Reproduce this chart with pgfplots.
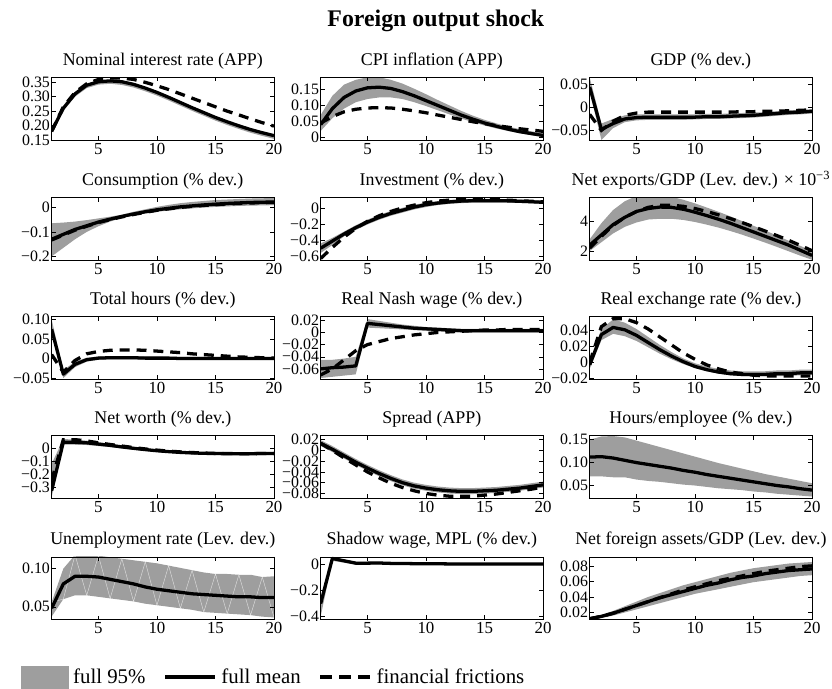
\documentclass[border=0pt]{standalone}
\usepackage{pgfplots}
\pgfplotsset{compat=1.18}
\usepackage{pgfplotstable}
\usepackage{fontspec}
\setmainfont{Liberation Serif}

\definecolor{bandgray}{RGB}{158,158,158}

% impulse responses: x, lower/upper 95% bound, full-model mean, financial-frictions model
\pgfplotstableread{
x lo hi m f
1 0.175 0.185 0.180 0.180
2 0.252 0.265 0.260 0.265
3 0.300 0.315 0.310 0.315
4 0.330 0.344 0.340 0.345
5 0.342 0.356 0.352 0.360
6 0.345 0.359 0.355 0.365
7 0.341 0.356 0.352 0.365
8 0.332 0.347 0.343 0.360
9 0.319 0.334 0.330 0.350
10 0.304 0.319 0.315 0.338
11 0.287 0.302 0.298 0.325
12 0.269 0.284 0.280 0.310
13 0.251 0.266 0.262 0.295
14 0.234 0.249 0.245 0.280
15 0.217 0.232 0.228 0.265
16 0.202 0.217 0.213 0.250
17 0.188 0.203 0.199 0.237
18 0.175 0.190 0.186 0.223
19 0.164 0.179 0.175 0.210
20 0.154 0.169 0.165 0.198
}\tabRate
\pgfplotstableread{
x lo hi m f
1 0.020 0.070 0.040 0.045
2 0.060 0.130 0.090 0.065
3 0.090 0.165 0.125 0.080
4 0.110 0.180 0.145 0.088
5 0.120 0.188 0.155 0.092
6 0.125 0.188 0.157 0.093
7 0.125 0.180 0.153 0.092
8 0.120 0.168 0.143 0.088
9 0.110 0.152 0.130 0.083
10 0.098 0.135 0.115 0.077
11 0.085 0.117 0.100 0.070
12 0.072 0.100 0.085 0.063
13 0.059 0.083 0.070 0.056
14 0.048 0.068 0.057 0.049
15 0.037 0.055 0.045 0.043
16 0.028 0.044 0.035 0.037
17 0.020 0.034 0.026 0.032
18 0.013 0.026 0.018 0.027
19 0.007 0.019 0.012 0.023
20 0.002 0.013 0.006 0.019
}\tabCPI
\pgfplotstableread{
x lo hi m f
1 0.035 0.066 0.045 -0.015
2 -0.071 -0.035 -0.048 -0.050
3 -0.045 -0.025 -0.035 -0.030
4 -0.032 -0.017 -0.025 -0.017
5 -0.028 -0.015 -0.022 -0.012
6 -0.027 -0.015 -0.021 -0.010
7 -0.027 -0.015 -0.021 -0.010
8 -0.027 -0.015 -0.021 -0.010
9 -0.027 -0.015 -0.021 -0.010
10 -0.026 -0.015 -0.021 -0.010
11 -0.025 -0.014 -0.020 -0.010
12 -0.025 -0.014 -0.020 -0.010
13 -0.024 -0.013 -0.019 -0.010
14 -0.023 -0.012 -0.018 -0.009
15 -0.022 -0.011 -0.017 -0.009
16 -0.020 -0.010 -0.015 -0.008
17 -0.018 -0.008 -0.013 -0.008
18 -0.016 -0.006 -0.011 -0.007
19 -0.015 -0.005 -0.010 -0.006
20 -0.013 -0.004 -0.008 -0.005
}\tabGDP
\pgfplotstableread{
x lo hi m f
1 -0.200 -0.065 -0.130 -0.133
2 -0.165 -0.062 -0.110 -0.113
3 -0.130 -0.058 -0.090 -0.093
4 -0.100 -0.052 -0.075 -0.077
5 -0.077 -0.045 -0.060 -0.062
6 -0.058 -0.038 -0.048 -0.050
7 -0.043 -0.030 -0.037 -0.039
8 -0.033 -0.018 -0.027 -0.029
9 -0.025 -0.008 -0.018 -0.020
10 -0.018 0.002 -0.010 -0.012
11 -0.013 0.010 -0.004 -0.006
12 -0.008 0.017 0.002 0.000
13 -0.004 0.022 0.006 0.004
14 -0.001 0.026 0.010 0.008
15 0.002 0.030 0.013 0.011
16 0.004 0.032 0.016 0.014
17 0.006 0.034 0.018 0.016
18 0.007 0.036 0.020 0.018
19 0.008 0.037 0.021 0.019
20 0.009 0.038 0.022 0.020
}\tabCons
\pgfplotstableread{
x lo hi m f
1 -0.56 -0.44 -0.50 -0.63
2 -0.46 -0.37 -0.41 -0.49
3 -0.35 -0.29 -0.32 -0.36
4 -0.27 -0.21 -0.24 -0.25
5 -0.20 -0.14 -0.17 -0.16
6 -0.14 -0.08 -0.11 -0.09
7 -0.09 -0.03 -0.06 -0.035
8 -0.05 0.01 -0.02 0.01
9 -0.01 0.05 0.02 0.045
10 0.02 0.075 0.05 0.075
11 0.045 0.095 0.07 0.095
12 0.06 0.11 0.085 0.108
13 0.07 0.12 0.095 0.115
14 0.075 0.125 0.10 0.117
15 0.077 0.125 0.10 0.115
16 0.077 0.123 0.10 0.112
17 0.076 0.12 0.098 0.107
18 0.072 0.114 0.093 0.10
19 0.067 0.107 0.087 0.093
20 0.06 0.10 0.08 0.085
}\tabInv
\pgfplotstableread{
x lo hi m f
1 2.0 2.8 2.4 2.2
2 2.6 3.9 3.1 3.0
3 3.2 4.8 3.8 3.75
4 3.65 5.4 4.3 4.3
5 3.95 5.75 4.7 4.7
6 4.15 5.9 4.9 4.98
7 4.2 5.85 5.0 5.12
8 4.2 5.7 4.98 5.13
9 4.12 5.5 4.85 5.05
10 3.98 5.25 4.65 4.9
11 3.8 4.97 4.42 4.7
12 3.6 4.68 4.17 4.47
13 3.37 4.37 3.9 4.22
14 3.12 4.05 3.6 3.95
15 2.85 3.72 3.3 3.66
16 2.57 3.4 3.0 3.36
17 2.28 3.05 2.7 3.05
18 1.98 2.7 2.4 2.73
19 1.68 2.35 2.05 2.38
20 1.4 2.0 1.7 2.02
}\tabNX
\pgfplotstableread{
x lo hi m f
1 0.060 0.100 0.075 0.010
2 -0.050 -0.030 -0.040 -0.035
3 -0.022 -0.008 -0.015 -0.005
4 -0.008 0.002 -0.003 0.012
5 -0.003 0.005 0.001 0.018
6 -0.002 0.006 0.002 0.021
7 -0.002 0.006 0.002 0.022
8 -0.002 0.006 0.002 0.022
9 -0.003 0.005 0.001 0.021
10 -0.003 0.005 0.001 0.019
11 -0.003 0.004 0.001 0.017
12 -0.003 0.004 0.000 0.015
13 -0.003 0.004 0.000 0.012
14 -0.003 0.004 0.000 0.010
15 -0.003 0.003 0.000 0.008
16 -0.003 0.003 0.000 0.006
17 -0.003 0.003 0.000 0.004
18 -0.003 0.003 0.000 0.003
19 -0.003 0.003 0.000 0.002
20 -0.003 0.003 0.000 0.001
}\tabHours
\pgfplotstableread{
x lo hi m f
1 -0.075 -0.045 -0.060 -0.070
2 -0.073 -0.045 -0.058 -0.060
3 -0.071 -0.043 -0.057 -0.045
4 -0.069 -0.040 -0.055 -0.030
5 0.008 0.022 0.015 -0.020
6 0.007 0.019 0.013 -0.015
7 0.006 0.016 0.011 -0.010
8 0.005 0.013 0.009 -0.007
9 0.004 0.011 0.007 -0.004
10 0.003 0.009 0.006 -0.002
11 0.002 0.008 0.005 0.000
12 0.001 0.007 0.004 0.001
13 0.000 0.006 0.003 0.002
14 0.000 0.006 0.003 0.003
15 0.000 0.006 0.003 0.004
16 0.000 0.006 0.003 0.004
17 0.000 0.006 0.003 0.005
18 0.000 0.006 0.003 0.005
19 0.000 0.006 0.003 0.005
20 0.000 0.006 0.003 0.005
}\tabNash
\pgfplotstableread{
x lo hi m f
1 -0.008 0.002 -0.003 0.000
2 0.028 0.042 0.035 0.045
3 0.036 0.054 0.044 0.055
4 0.033 0.050 0.041 0.055
5 0.027 0.042 0.034 0.050
6 0.019 0.032 0.025 0.042
7 0.011 0.022 0.016 0.032
8 0.004 0.013 0.008 0.022
9 -0.002 0.005 0.001 0.012
10 -0.007 -0.001 -0.005 0.004
11 -0.011 -0.005 -0.009 -0.003
12 -0.014 -0.008 -0.012 -0.008
13 -0.016 -0.010 -0.014 -0.012
14 -0.017 -0.011 -0.015 -0.014
15 -0.017 -0.011 -0.015 -0.016
16 -0.017 -0.011 -0.015 -0.017
17 -0.017 -0.010 -0.014 -0.017
18 -0.017 -0.010 -0.014 -0.017
19 -0.016 -0.009 -0.013 -0.017
20 -0.016 -0.009 -0.013 -0.017
}\tabRER
\pgfplotstableread{
x lo hi m f
1 -0.38 -0.12 -0.33 -0.25
2 0.03 0.075 0.05 0.07
3 0.03 0.07 0.05 0.07
4 0.028 0.062 0.045 0.06
5 0.02 0.05 0.035 0.045
6 0.012 0.038 0.025 0.032
7 0.001 0.025 0.013 0.02
8 -0.009 0.013 0.002 0.008
9 -0.018 0.002 -0.008 -0.003
10 -0.026 -0.008 -0.017 -0.012
11 -0.033 -0.015 -0.024 -0.02
12 -0.038 -0.021 -0.030 -0.026
13 -0.042 -0.025 -0.034 -0.031
14 -0.045 -0.028 -0.037 -0.035
15 -0.047 -0.030 -0.039 -0.038
16 -0.048 -0.031 -0.040 -0.039
17 -0.048 -0.031 -0.040 -0.040
18 -0.048 -0.031 -0.040 -0.040
19 -0.047 -0.030 -0.039 -0.039
20 -0.046 -0.029 -0.038 -0.038
}\tabNW
\pgfplotstableread{
x lo hi m f
1 0.008 0.019 0.013 0.013
2 -0.003 0.008 0.002 0.000
3 -0.015 -0.004 -0.010 -0.014
4 -0.027 -0.016 -0.022 -0.027
5 -0.038 -0.027 -0.033 -0.040
6 -0.048 -0.037 -0.043 -0.051
7 -0.057 -0.046 -0.052 -0.061
8 -0.065 -0.054 -0.060 -0.069
9 -0.071 -0.060 -0.066 -0.075
10 -0.075 -0.064 -0.070 -0.080
11 -0.078 -0.067 -0.073 -0.083
12 -0.080 -0.069 -0.075 -0.085
13 -0.081 -0.070 -0.076 -0.085
14 -0.081 -0.070 -0.076 -0.085
15 -0.080 -0.069 -0.075 -0.083
16 -0.079 -0.068 -0.074 -0.081
17 -0.077 -0.066 -0.072 -0.078
18 -0.075 -0.064 -0.070 -0.075
19 -0.072 -0.061 -0.067 -0.072
20 -0.069 -0.058 -0.064 -0.068
}\tabSpread
\pgfplotstableread{
x lo hi m
1 0.070 0.150 0.112
2 0.070 0.157 0.113
3 0.068 0.158 0.110
4 0.068 0.155 0.105
5 0.063 0.148 0.100
6 0.060 0.141 0.096
7 0.058 0.134 0.092
8 0.055 0.127 0.088
9 0.052 0.120 0.083
10 0.050 0.113 0.079
11 0.047 0.106 0.074
12 0.044 0.099 0.070
13 0.042 0.093 0.066
14 0.040 0.087 0.062
15 0.037 0.081 0.058
16 0.035 0.075 0.054
17 0.032 0.070 0.050
18 0.030 0.065 0.047
19 0.028 0.060 0.043
20 0.026 0.055 0.040
}\tabHPE
\pgfplotstableread{
x lo hi m
1 0.037 0.056 0.048
2 0.060 0.100 0.080
3 0.065 0.118 0.090
4 0.065 0.118 0.090
5 0.063 0.117 0.089
6 0.061 0.115 0.086
7 0.059 0.113 0.083
8 0.057 0.111 0.080
9 0.054 0.109 0.076
10 0.052 0.107 0.073
11 0.050 0.104 0.071
12 0.048 0.101 0.069
13 0.046 0.098 0.067
14 0.043 0.095 0.066
15 0.042 0.093 0.065
16 0.041 0.093 0.064
17 0.040 0.092 0.063
18 0.039 0.092 0.063
19 0.037 0.089 0.062
20 0.036 0.090 0.062
}\tabUnemp
\pgfplotstableread{
x lo hi m
1 -0.40 -0.25 -0.30
2 0.030 0.060 0.048
3 0.015 0.040 0.030
4 0.000 0.022 0.012
5 0.002 0.022 0.012
6 0.003 0.022 0.013
7 0.001 0.019 0.010
8 0.000 0.017 0.009
9 -0.001 0.016 0.008
10 -0.002 0.015 0.007
11 -0.002 0.014 0.007
12 -0.003 0.014 0.006
13 -0.003 0.013 0.006
14 -0.003 0.013 0.006
15 -0.003 0.013 0.005
16 -0.003 0.012 0.005
17 -0.003 0.012 0.005
18 -0.003 0.012 0.005
19 -0.003 0.012 0.005
20 -0.003 0.012 0.005
}\tabShadow
\pgfplotstableread{
x lo hi m f
1 0.011 0.013 0.012 0.012
2 0.013 0.017 0.015 0.015
3 0.016 0.022 0.019 0.019
4 0.020 0.028 0.024 0.024
5 0.024 0.034 0.029 0.029
6 0.028 0.040 0.034 0.034
7 0.032 0.045 0.039 0.039
8 0.036 0.050 0.043 0.044
9 0.040 0.055 0.047 0.049
10 0.044 0.059 0.051 0.053
11 0.047 0.063 0.055 0.057
12 0.050 0.067 0.058 0.061
13 0.053 0.071 0.062 0.064
14 0.056 0.074 0.065 0.067
15 0.059 0.077 0.067 0.070
16 0.061 0.079 0.070 0.073
17 0.063 0.081 0.072 0.075
18 0.065 0.083 0.074 0.077
19 0.067 0.084 0.075 0.079
20 0.068 0.085 0.076 0.080
}\tabNFA

\pgfplotsset{
  irf/.style={
    width=224pt, height=63pt, scale only axis,
    anchor=north west,
    xmin=1, xmax=20, xtick={5,10,15,20},
    scaled x ticks=false, scaled y ticks=false,
    tick align=inside, major tick length=4pt,
    tick style={black, line width=0.5pt},
    axis line style={black, line width=0.7pt},
    xticklabel style={font=\fontsize{17}{17}\selectfont, inner sep=3pt},
    yticklabel style={font=\fontsize{16}{16}\selectfont, inner sep=1.5pt},
    /pgf/number format/assume math mode=true,
    title style={font=\fontsize{18}{20}\selectfont, inner sep=2pt},
    axis on top,
  },
  meanline/.style={black, line width=3.3pt, line join=round},
  ffline/.style={black, line width=3.3pt, dash pattern=on 10pt off 7pt},
}

% 95% band: lower bound stacked with the band width, filled in between
\newcommand{\irfband}[1]{%
  \addplot[draw=none, fill=none, forget plot, stack plots=y] table[x=x,y=lo]{#1};
  \addplot[draw=none, fill=bandgray, forget plot, stack plots=y]
    table[x=x, y expr=\thisrow{hi}-\thisrow{lo}]{#1} \closedcycle;
}
\newcommand{\meanpath}[1]{\addplot[meanline, forget plot] table[x=x,y=m]{#1};}
\newcommand{\ffpath}[1]{\addplot[ffline, forget plot] table[x=x,y=f]{#1};}

\begin{document}
\begin{tikzpicture}
\path (0pt,0pt) rectangle (832pt,692pt);

\node[font=\fontsize{24}{26}\selectfont\bfseries] at (439pt,671pt) {Foreign output shock};

% ---- row 1
\begin{axis}[irf, at={(52pt,614pt)}, title={Nominal interest rate (APP)},
  ymin=0.15, ymax=0.367, ytick={0.15,0.2,0.25,0.3,0.35},
  yticklabels={0.15,0.20,0.25,0.30,0.35}]
  \irfband{\tabRate}\meanpath{\tabRate}\ffpath{\tabRate}
\end{axis}
\begin{axis}[irf, at={(323pt,614pt)}, title={CPI inflation (APP)},
  ymin=-0.008, ymax=0.1875, ytick={0,0.05,0.1,0.15},
  yticklabels={0,0.05,0.10,0.15}]
  \irfband{\tabCPI}\meanpath{\tabCPI}\ffpath{\tabCPI}
\end{axis}
\begin{axis}[irf, at={(594pt,614pt)}, title={GDP (\% dev.)},
  ymin=-0.071, ymax=0.066, ytick={-0.05,0,0.05},
  yticklabels={−0.05,0,0.05}]
  \irfband{\tabGDP}\meanpath{\tabGDP}\ffpath{\tabGDP}
\end{axis}

% ---- row 2
\begin{axis}[irf, at={(52pt,493pt)}, title={Consumption (\% dev.)},
  ymin=-0.215, ymax=0.04, ytick={-0.2,-0.1,0},
  yticklabels={−0.2,−0.1,0}]
  \irfband{\tabCons}\meanpath{\tabCons}\ffpath{\tabCons}
\end{axis}
\begin{axis}[irf, at={(323pt,493pt)}, title={Investment (\% dev.)},
  ymin=-0.65, ymax=0.14, ytick={-0.6,-0.4,-0.2,0},
  yticklabels={−0.6,−0.4,−0.2,0}]
  \irfband{\tabInv}\meanpath{\tabInv}\ffpath{\tabInv}
\end{axis}
\begin{axis}[irf, at={(594pt,493pt)}, title={Net exports/GDP (Lev. dev.) × 10\textsuperscript{−3}},
  ymin=1.38, ymax=5.65, ytick={2,4}, yticklabels={2,4}]
  \irfband{\tabNX}\meanpath{\tabNX}\ffpath{\tabNX}
\end{axis}

% ---- row 3
\begin{axis}[irf, at={(52pt,373pt)}, title={Total hours (\% dev.)},
  ymin=-0.053, ymax=0.107, ytick={-0.05,0,0.05,0.1},
  yticklabels={−0.05,0,0.05,0.10}]
  \irfband{\tabHours}\meanpath{\tabHours}\ffpath{\tabHours}
\end{axis}
\begin{axis}[irf, at={(323pt,373pt)}, title={Real Nash wage (\% dev.)},
  ymin=-0.077, ymax=0.026, ytick={-0.06,-0.04,-0.02,0,0.02},
  yticklabels={−0.06,−0.04,−0.02,0,0.02}]
  \irfband{\tabNash}\meanpath{\tabNash}\ffpath{\tabNash}
\end{axis}
\begin{axis}[irf, at={(594pt,373pt)}, title={Real exchange rate (\% dev.)},
  ymin=-0.021, ymax=0.0575, ytick={-0.02,0,0.02,0.04},
  yticklabels={−0.02,0,0.02,0.04}]
  \irfband{\tabRER}\meanpath{\tabRER}\ffpath{\tabRER}
\end{axis}

% ---- row 4
\begin{axis}[irf, at={(52pt,253pt)}, title={Net worth (\% dev.)},
  ymin=-0.39, ymax=0.1, ytick={-0.3,-0.2,-0.1,0},
  yticklabels={−0.3,−0.2,−0.1,0}]
  \irfband{\tabNW}\meanpath{\tabNW}\ffpath{\tabNW}
\end{axis}
\begin{axis}[irf, at={(323pt,253pt)}, title={Spread (APP)},
  ymin=-0.089, ymax=0.027, ytick={-0.08,-0.06,-0.04,-0.02,0,0.02},
  yticklabels={−0.08,−0.06,−0.04,−0.02,0,0.02}]
  \irfband{\tabSpread}\meanpath{\tabSpread}\ffpath{\tabSpread}
\end{axis}
\begin{axis}[irf, at={(594pt,253pt)}, title={Hours/employee (\% dev.)},
  ymin=0.022, ymax=0.1585, ytick={0.05,0.1,0.15},
  yticklabels={0.05,0.10,0.15}]
  \irfband{\tabHPE}\meanpath{\tabHPE}
\end{axis}

% ---- row 5
\begin{axis}[irf, at={(52pt,131pt)}, title={Unemployment rate (Lev. dev.)},
  ymin=0.0333, ymax=0.1154, ytick={0.05,0.1},
  yticklabels={0.05,0.10},
  legend columns=-1,
  legend style={at={(axis description cs:-0.138,-0.92)}, anchor=west,
    draw=none, fill=none, inner sep=0pt,
    font=\fontsize{21}{21}\selectfont,
    nodes={inner sep=0pt},
    /tikz/every odd column/.append style={column sep=5pt},
    /tikz/every even column/.append style={column sep=18pt}},
  ]
  \irfband{\tabUnemp}
  % seams of the filled band
  \addplot[white, line width=0.4pt, opacity=0.7, forget plot]
    table[x=x, y expr={mod(\coordindex,2)==0 ? \thisrow{hi} : \thisrow{lo}}]{\tabUnemp};
  \meanpath{\tabUnemp}
  \addlegendimage{legend image code/.code={\fill[bandgray] (0pt,-11pt) rectangle (47pt,11pt);}}
  \addlegendentry{full 95\%}
  \addlegendimage{legend image code/.code={\draw[line width=3.5pt] (0pt,0pt) -- (50pt,0pt);}}
  \addlegendentry{full mean}
  \addlegendimage{legend image code/.code={\draw[line width=3.5pt, dash pattern=on 12pt off 7pt] (0pt,0pt) -- (50pt,0pt);}}
  \addlegendentry{financial frictions}
\end{axis}
\begin{axis}[irf, at={(323pt,131pt)}, title={Shadow wage, MPL (\% dev.)},
  ymin=-0.423, ymax=0.06, ytick={-0.4,-0.2,0},
  yticklabels={−0.4,−0.2,0}]
  \irfband{\tabShadow}\meanpath{\tabShadow}
\end{axis}
\begin{axis}[irf, at={(594pt,131pt)}, title={Net foreign assets/GDP (Lev. dev.)},
  ymin=0.011, ymax=0.0915, ytick={0.02,0.04,0.06,0.08},
  yticklabels={0.02,0.04,0.06,0.08}]
  \irfband{\tabNFA}\meanpath{\tabNFA}\ffpath{\tabNFA}
\end{axis}
\end{tikzpicture}
\end{document}
